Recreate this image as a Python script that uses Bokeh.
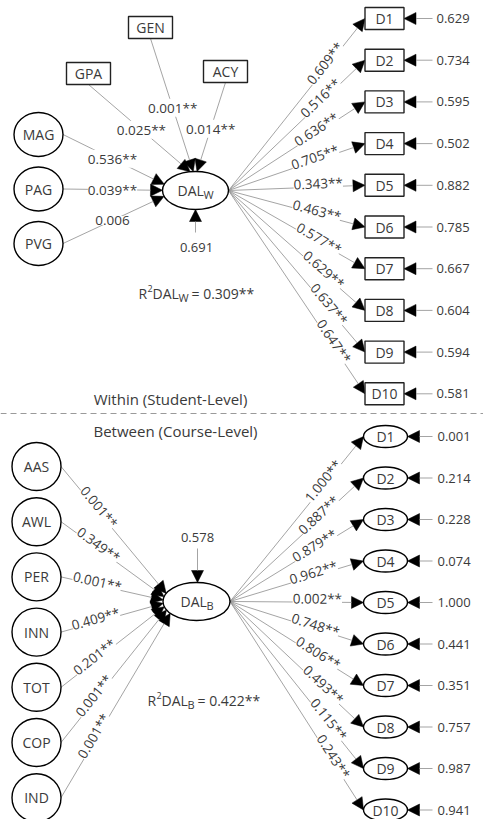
import numpy as np
from bokeh.plotting import figure
from bokeh.models import Range1d, ColumnDataSource, Arrow, NormalHead
from bokeh.core.properties import value
from bokeh.embed import file_html
from bokeh.resources import INLINE

# ---------------- data ----------------
w_obs_names = ["GPA", "GEN", "ACY"]
w_obs_coef = ["0.025**", "0.001**", "0.014**"]
w_lat_names = ["MAG", "PAG", "PVG"]
w_lat_coef = ["0.536**", "0.039**", "0.006"]
w_items = ["D1", "D2", "D3", "D4", "D5", "D6", "D7", "D8", "D9", "D10"]
w_load = ["0.609**", "0.516**", "0.636**", "0.705**", "0.343**",
          "0.463**", "0.577**", "0.629**", "0.637**", "0.647**"]
w_err = ["0.629", "0.734", "0.595", "0.502", "0.882",
         "0.785", "0.667", "0.604", "0.594", "0.581"]
w_disturb = "0.691"
w_r2 = "0.309**"

b_names = ["AAS", "AWL", "PER", "INN", "TOT", "COP", "IND"]
b_coef = ["0.001**", "0.349**", "0.001**", "0.409**", "0.201**", "0.001**", "0.001**"]
b_items = ["D1", "D2", "D3", "D4", "D5", "D6", "D7", "D8", "D9", "D10"]
b_load = ["1.000**", "0.887**", "0.879**", "0.962**", "0.002**",
          "0.748**", "0.806**", "0.493**", "0.115**", "0.243**"]
b_err = ["0.001", "0.214", "0.228", "0.074", "1.000",
         "0.441", "0.351", "0.757", "0.987", "0.941"]
b_disturb = "0.578"
b_r2 = "0.422**"

within_title = "Within (Student-Level)"
between_title = "Between (Course-Level)"

# ---------------- styles ----------------
FONT = value("Open Sans")
INK = "#3a3a3a"
LINE = "#939393"

W, H = 483, 819
p = figure(width=W, height=H, x_range=Range1d(0, W), y_range=Range1d(H, 0),
           output_backend="svg", toolbar_location=None, min_border=0,
           x_axis_location=None, y_axis_location=None)
p.grid.visible = False
p.outline_line_color = None
p.background_fill_color = "white"
p.border_fill_color = "white"

arrows = dict(x0=[], y0=[], x1=[], y1=[])
plab = dict(x=[], y=[], text=[], angle=[])
nodes_e = dict(x=[], y=[], w=[], h=[])
nodes_r = dict(x=[], y=[], w=[], h=[])
nlab = dict(x=[], y=[], text=[])
plain = dict(x=[], y=[], text=[], size=[], align=[])


def add_arrow(x0, y0, x1, y1):
    arrows["x0"].append(x0); arrows["y0"].append(y0)
    arrows["x1"].append(x1); arrows["y1"].append(y1)


def add_plab(x, y, text, angle=0.0):
    plab["x"].append(x); plab["y"].append(y)
    plab["text"].append(text); plab["angle"].append(angle)


def add_plain(x, y, text, size="13px", align="left"):
    plain["x"].append(x); plain["y"].append(y); plain["text"].append(text)
    plain["size"].append(size); plain["align"].append(align)


def on_line(x0, y0, x1, y1, d_from_end=None, at_x=None, t=None, off=0.0):
    dx, dy = x1 - x0, y1 - y0
    L = np.hypot(dx, dy)
    ang = np.arctan2(-dy, dx)
    if d_from_end is not None:
        t = 1 - d_from_end / L
    if at_x is not None:
        t = (at_x - x0) / dx
    x, y = x0 + t * dx, y0 + t * dy
    x += off * (-np.sin(ang))
    y += off * (-np.cos(ang))
    return x, y, ang


def left_target(cx, cy, a, b, sy, k):
    d = float(np.clip(k * (sy - cy), -b + 2, b - 2))
    return cx - a * np.sqrt(1 - (d / b) ** 2), cy + d


def top_target(cx, cy, a, b, sx, k):
    d = k * (sx - cx)
    return cx + d, cy - b * np.sqrt(1 - (d / a) ** 2)


def subscripted(x, y, main, sub, rest=None, sup=None, size="14px"):
    cur = x
    if sup is not None:
        add_plain(cur, y, "R", size)
        add_plain(cur + 9, y - 5, sup, "9px")
        cur += 14
    add_plain(cur, y, main, size)
    add_plain(cur + 26, y + 4, sub, "11px")
    if rest is not None:
        add_plain(cur + 26 + (13 if sub == "W" else 10), y, rest, size)


# ---------------- within level ----------------
dw_cx, dw_cy, dw_a, dw_b = 195, 190, 33, 19
nodes_e["x"].append(dw_cx); nodes_e["y"].append(dw_cy)
nodes_e["w"].append(2 * dw_a); nodes_e["h"].append(2 * dw_b)
subscripted(dw_cx - 18, dw_cy, "DAL", "W")

obs_x = [88, 150, 225]
obs_y = [73, 27, 71]
for name, coef, ox, oy in zip(w_obs_names, w_obs_coef, obs_x, obs_y):
    nodes_r["x"].append(ox); nodes_r["y"].append(oy)
    nodes_r["w"].append(44); nodes_r["h"].append(22)
    nlab["x"].append(ox); nlab["y"].append(oy); nlab["text"].append(name)
    tx, ty = top_target(dw_cx, dw_cy, dw_a, dw_b, ox, 0.05)
    add_arrow(ox, oy + 11, tx, ty)
    lx, ly, _ = on_line(ox, oy + 11, tx, ty, t=0.52)
    add_plab(lx, ly, coef)

lat_cx = 38
for i, (name, coef) in enumerate(zip(w_lat_names, w_lat_coef)):
    ly0 = 134 + i * 54.5
    nodes_e["x"].append(lat_cx); nodes_e["y"].append(ly0)
    nodes_e["w"].append(49); nodes_e["h"].append(44)
    nlab["x"].append(lat_cx); nlab["y"].append(ly0); nlab["text"].append(name)
    sx = lat_cx + 24.5
    tx, ty = left_target(dw_cx, dw_cy, dw_a, dw_b, ly0, 0.11)
    add_arrow(sx, ly0, tx, ty)
    lx, ly, _ = on_line(sx, ly0, tx, ty, at_x=112)
    add_plab(lx, ly, coef)

item_cx = 384
ox0, oy0 = dw_cx + dw_a, dw_cy
for i, (name, lo, er) in enumerate(zip(w_items, w_load, w_err)):
    iy = 18 + i * 41.7
    nodes_r["x"].append(item_cx); nodes_r["y"].append(iy)
    nodes_r["w"].append(39); nodes_r["h"].append(22)
    nlab["x"].append(item_cx); nlab["y"].append(iy); nlab["text"].append(name)
    ex = item_cx - 19.5
    add_arrow(ox0, oy0, ex, iy)
    ang = np.arctan2(-(iy - oy0), ex - ox0)
    lx, ly, a = on_line(ox0, oy0, ex, iy, d_from_end=46 + 18 * abs(np.sin(ang)), off=3.5)
    add_plab(lx, ly, lo, a)
    add_arrow(432, iy, item_cx + 19.5, iy)
    add_plain(436, iy, er)

add_arrow(dw_cx, 232, dw_cx, dw_cy + dw_b)
add_plain(dw_cx + 1, 247, w_disturb, align="center")
subscripted(138, 293, "DAL", "W", rest="= " + w_r2, sup="2")

# ---------------- separator ----------------
add_plain(170, 398, within_title, "15px", "center")
add_plain(175, 430, between_title, "15px", "center")

# ---------------- between level ----------------
db_cx, db_cy, db_a, db_b = 196, 601, 33.5, 19
nodes_e["x"].append(db_cx); nodes_e["y"].append(db_cy)
nodes_e["w"].append(2 * db_a); nodes_e["h"].append(2 * db_b)
subscripted(db_cx - 16, db_cy, "DAL", "B")

bl_cx = 36
for i, (name, coef) in enumerate(zip(b_names, b_coef)):
    by = 466 + i * 55.2
    nodes_e["x"].append(bl_cx); nodes_e["y"].append(by)
    nodes_e["w"].append(49); nodes_e["h"].append(48)
    nlab["x"].append(bl_cx); nlab["y"].append(by); nlab["text"].append(name)
    sx = bl_cx + 24.5
    tx, ty = left_target(db_cx, db_cy, db_a, db_b, by, 0.06)
    add_arrow(sx, by, tx, ty)
    lx, ly, a = on_line(sx, by, tx, ty, at_x=96, off=3.5)
    add_plab(lx, ly, coef, a)

bitem_cx = 385
bx0, by0 = db_cx + db_a, db_cy
for i, (name, lo, er) in enumerate(zip(b_items, b_load, b_err)):
    iy = 436 + i * 41.5
    nodes_e["x"].append(bitem_cx); nodes_e["y"].append(iy)
    nodes_e["w"].append(44); nodes_e["h"].append(22)
    nlab["x"].append(bitem_cx); nlab["y"].append(iy); nlab["text"].append(name)
    ex = bitem_cx - 22
    add_arrow(bx0, by0, ex, iy)
    ang = np.arctan2(-(iy - by0), ex - bx0)
    lx, ly, a = on_line(bx0, by0, ex, iy, d_from_end=46 + 18 * abs(np.sin(ang)), off=3.5)
    add_plab(lx, ly, lo, a)
    add_arrow(432, iy, bitem_cx + 22, iy)
    add_plain(437, iy, er)

add_arrow(db_cx + 1, 548, db_cx + 1, db_cy - db_b)
add_plain(db_cx + 1, 537, b_disturb, align="center")
subscripted(147, 700, "DAL", "B", rest="= " + b_r2, sup="2")

# ---------------- render ----------------
p.line(x=[0, W], y=[413, 413], line_color="#9a9a9a", line_width=1, line_dash="6 4")

p.add_layout(Arrow(end=NormalHead(size=12, fill_color="black", line_color="black", line_width=0.5),
                   x_start="x0", y_start="y0", x_end="x1", y_end="y1",
                   source=ColumnDataSource(arrows), line_color=LINE, line_width=0.85,
                   level="underlay"))

p.ellipse(x="x", y="y", width="w", height="h", source=ColumnDataSource(nodes_e),
          fill_color="white", line_color="black", line_width=1.4)
p.rect(x="x", y="y", width="w", height="h", source=ColumnDataSource(nodes_r),
       fill_color="white", line_color="#222222", line_width=1.4)

p.text(x="x", y="y", text="text", source=ColumnDataSource(nlab),
       text_font=FONT, text_font_size=value("14px"), text_color=INK,
       text_align="center", text_baseline="middle")

p.text(x="x", y="y", text="text", angle="angle", source=ColumnDataSource(plab),
       text_font=FONT, text_font_size=value("13.5px"), text_color=INK,
       text_align="center", text_baseline="middle", background_fill_color="white")

p.text(x="x", y="y", text="text", text_font_size="size", text_align="align",
       source=ColumnDataSource(plain), text_font=FONT, text_color=INK,
       text_baseline="middle")

open("out.html", "w").write(file_html(p, INLINE))
